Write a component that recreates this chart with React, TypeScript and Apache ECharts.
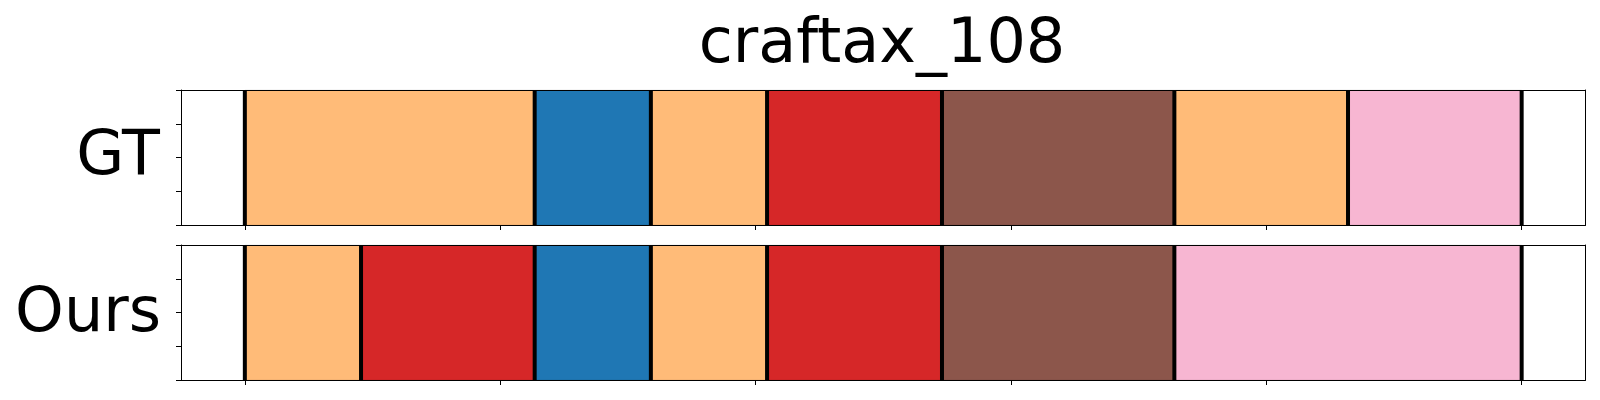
import React, { useEffect, useRef } from 'react';
import * as echarts from 'echarts';

const chartTitle = 'craftax_108';
const rowNames = ['GT', 'Ours'];
const gtBounds = [0, 22.7, 31.8, 40.9, 54.6, 72.8, 86.4, 100];
const gtLabels = ['orange', 'blue', 'orange', 'red', 'brown', 'orange', 'pink'];
const oursBounds = [0, 9.1, 22.7, 31.8, 40.9, 54.6, 72.8, 100];
const oursLabels = ['orange', 'red', 'blue', 'orange', 'red', 'brown', 'pink'];
const xTicks = [0, 20, 40, 60, 80, 100];
const xRange = [-5, 105];
const yRange = [0, 1];

const colorMap: Record<string, string> = {
  orange: '#ffbb78',
  blue: '#1f77b4',
  red: '#d62728',
  brown: '#8c564b',
  pink: '#f7b6d2',
};

const FONT = 'DejaVu Sans';

export default function App() {
  const ref = useRef<HTMLDivElement>(null);
  useEffect(() => {
    document.body.style.margin = '0';
    if (!ref.current) return;
    const chart = echarts.init(ref.current, null, { renderer: 'svg' });
    const rows = [
      { bounds: gtBounds, labels: gtLabels },
      { bounds: oursBounds, labels: oursLabels },
    ];
    const grids = [
      { left: 181, top: 90, width: 1404.5, height: 135 },
      { left: 181, top: 245, width: 1404.5, height: 135 },
    ];
    const xAxes: any[] = [];
    const yAxes: any[] = [];
    const series: any[] = [];
    rows.forEach((row, i) => {
      xAxes.push({
        type: 'value', gridIndex: i, min: xRange[0], max: xRange[1], position: 'bottom', z: 10,
        axisLine: { show: true, onZero: false, lineStyle: { color: '#000', width: 1 } },
        axisTick: { show: true, inside: false, length: 5, customValues: xTicks, lineStyle: { color: '#000', width: 1 } },
        axisLabel: { show: false }, splitLine: { show: false },
      });
      xAxes.push({
        type: 'value', gridIndex: i, min: xRange[0], max: xRange[1], position: 'top', z: 10,
        axisLine: { show: true, onZero: false, lineStyle: { color: '#000', width: 1 } },
        axisTick: { show: false }, axisLabel: { show: false }, splitLine: { show: false },
      });
      yAxes.push({
        type: 'value', gridIndex: i, min: yRange[0], max: yRange[1], interval: 0.25, position: 'left', z: 10,
        axisLine: { show: true, onZero: false, lineStyle: { color: '#000', width: 1 } },
        axisTick: { show: true, inside: false, length: 5, lineStyle: { color: '#000', width: 1 } },
        axisLabel: { show: false }, splitLine: { show: false },
      });
      yAxes.push({
        type: 'value', gridIndex: i, min: yRange[0], max: yRange[1], position: 'right', z: 10,
        axisLine: { show: true, onZero: false, lineStyle: { color: '#000', width: 1 } },
        axisTick: { show: false }, axisLabel: { show: false }, splitLine: { show: false },
      });
      const segData = row.labels.map((lab, k) => ({
        value: [row.bounds[k], row.bounds[k + 1], yRange[0], yRange[1]],
        itemStyle: { color: colorMap[lab] },
      }));
      series.push({
        type: 'custom', xAxisIndex: i * 2, yAxisIndex: i * 2, z: 2,
        encode: { x: [0, 1], y: [2, 3] },
        data: segData,
        renderItem: (params: any, api: any) => {
          const p0 = api.coord([api.value(0), api.value(3)]);
          const p1 = api.coord([api.value(1), api.value(2)]);
          return {
            type: 'rect',
            shape: { x: p0[0], y: p0[1], width: p1[0] - p0[0], height: p1[1] - p0[1] },
            style: { fill: api.visual('color'), stroke: 'rgba(0,0,0,0.08)', lineWidth: 1 },
          };
        },
      });
      series.push({
        type: 'custom', xAxisIndex: i * 2, yAxisIndex: i * 2, z: 3,
        encode: { x: 0, y: [1, 2] },
        data: row.bounds.map((b) => [b, yRange[0], yRange[1]]),
        renderItem: (params: any, api: any) => {
          const p0 = api.coord([api.value(0), api.value(1)]);
          const p1 = api.coord([api.value(0), api.value(2)]);
          return {
            type: 'line',
            shape: { x1: p0[0], y1: p0[1], x2: p1[0], y2: p1[1] },
            style: { stroke: '#000', lineWidth: 4 },
          };
        },
      });
    });
    chart.setOption({
      animation: false,
      backgroundColor: '#fff',
      grid: grids,
      xAxis: xAxes,
      yAxis: yAxes,
      series,
      graphic: [
        {
          type: 'text', x: 882, y: 40,
          style: { text: chartTitle, fontSize: 62, fontFamily: FONT, fill: '#000', align: 'center', verticalAlign: 'middle' },
        },
        {
          type: 'text', x: 160, y: 152,
          style: { text: rowNames[0], fontSize: 62, fontFamily: FONT, fill: '#000', align: 'right', verticalAlign: 'middle' },
        },
        {
          type: 'text', x: 161, y: 309,
          style: { text: rowNames[1], fontSize: 62, fontFamily: FONT, fill: '#000', align: 'right', verticalAlign: 'middle' },
        },
      ],
    });
    return () => chart.dispose();
  }, []);
  return <div ref={ref} style={{ width: 1600, height: 400 }} />;
}
